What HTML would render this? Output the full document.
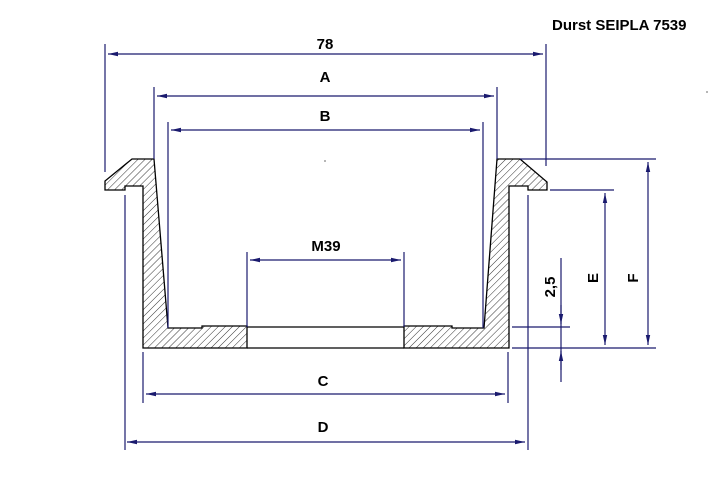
<!DOCTYPE html>
<html><head><meta charset="utf-8"><style>
html,body{margin:0;padding:0;background:#fff;width:725px;height:493px;overflow:hidden}
svg{display:block}
text{font-family:"Liberation Sans",sans-serif;font-weight:bold;font-size:15px;fill:#000}
</style></head><body>
<svg width="725" height="493" viewBox="0 0 725 493" xmlns="http://www.w3.org/2000/svg">
<defs>
<pattern id="h" width="5" height="5" patternUnits="userSpaceOnUse" patternTransform="rotate(45)">
<line x1="0" y1="0" x2="0" y2="5" stroke="#000" stroke-width="0.8"/>
</pattern>
<marker id="a" markerWidth="10" markerHeight="6" refX="10" refY="3" orient="auto-start-reverse" markerUnits="userSpaceOnUse">
<path d="M10,3 L0,0.8 L0,5.2 Z" fill="#1a1a6e"/>
</marker>
</defs>
<g stroke="#000" stroke-width="1.3" fill="url(#h)">
<path d="M105,190 L125,190 L125,186 L143,186 L143,348 L247,348 L247,326 L202,326 L202,328 L168,328 L154,159 L132,159 L105,181 Z"/>
<path d="M547,190 L528,190 L528,186 L509,186 L509,348 L404,348 L404,326 L452,326 L452,328 L484,328 L497,159 L520,159 L547,182 Z"/>
</g>
<g stroke="#000" stroke-width="1.3" fill="none">
<line x1="247" y1="327" x2="404" y2="327"/>
<line x1="247" y1="348" x2="404" y2="348"/>
</g>
<g stroke="#1a1a6e" stroke-width="1.2" fill="none">
<line x1="105" y1="44" x2="105" y2="172"/>
<line x1="546" y1="44" x2="546" y2="166"/>
<line x1="154" y1="87" x2="154" y2="159"/>
<line x1="497" y1="87" x2="497" y2="159"/>
<line x1="168" y1="122" x2="168" y2="328"/>
<line x1="483" y1="122" x2="483" y2="328"/>
<line x1="247" y1="252" x2="247" y2="327"/>
<line x1="404" y1="252" x2="404" y2="327"/>
<line x1="143" y1="352" x2="143" y2="403"/>
<line x1="508" y1="352" x2="508" y2="403"/>
<line x1="125" y1="195" x2="125" y2="450"/>
<line x1="528" y1="195" x2="528" y2="450"/>
<line x1="520" y1="159" x2="656" y2="159"/>
<line x1="550" y1="190" x2="614" y2="190"/>
<line x1="512" y1="327" x2="570" y2="327"/>
<line x1="512" y1="348" x2="656" y2="348"/>
<line x1="561" y1="258" x2="561" y2="382"/>
</g>
<g stroke="#1a1a6e" stroke-width="1.2" fill="none" marker-start="url(#a)" marker-end="url(#a)">
<line x1="108" y1="54" x2="543" y2="54"/>
<line x1="157" y1="96" x2="494" y2="96"/>
<line x1="171" y1="130" x2="480" y2="130"/>
<line x1="250" y1="260" x2="401" y2="260"/>
<line x1="146" y1="394" x2="505" y2="394"/>
<line x1="127" y1="442" x2="525" y2="442"/>
<line x1="605" y1="193" x2="605" y2="345"/>
<line x1="648" y1="162" x2="648" y2="345"/>
</g>
<g stroke="#1a1a6e" stroke-width="1.2" fill="none">
<line x1="561" y1="305" x2="561" y2="324" marker-end="url(#a)"/>
<line x1="561" y1="370" x2="561" y2="351" marker-end="url(#a)"/>
</g>
<text x="552" y="30" font-size="14">Durst SEIPLA 7539</text>
<text x="325" y="49" text-anchor="middle">78</text>
<text x="325" y="82" text-anchor="middle">A</text>
<text x="325" y="121" text-anchor="middle">B</text>
<text x="326" y="251" text-anchor="middle">M39</text>
<text x="323" y="386" text-anchor="middle">C</text>
<text x="323" y="432" text-anchor="middle">D</text>
<text transform="translate(598,278) rotate(-90)" text-anchor="middle">E</text>
<text transform="translate(638,278) rotate(-90)" text-anchor="middle">F</text>
<text transform="translate(555,287) rotate(-90)" text-anchor="middle">2,5</text>
<circle cx="325" cy="161" r="0.6" fill="#000"/>
<circle cx="707" cy="92" r="0.6" fill="#000"/>
</svg>
</body></html>
